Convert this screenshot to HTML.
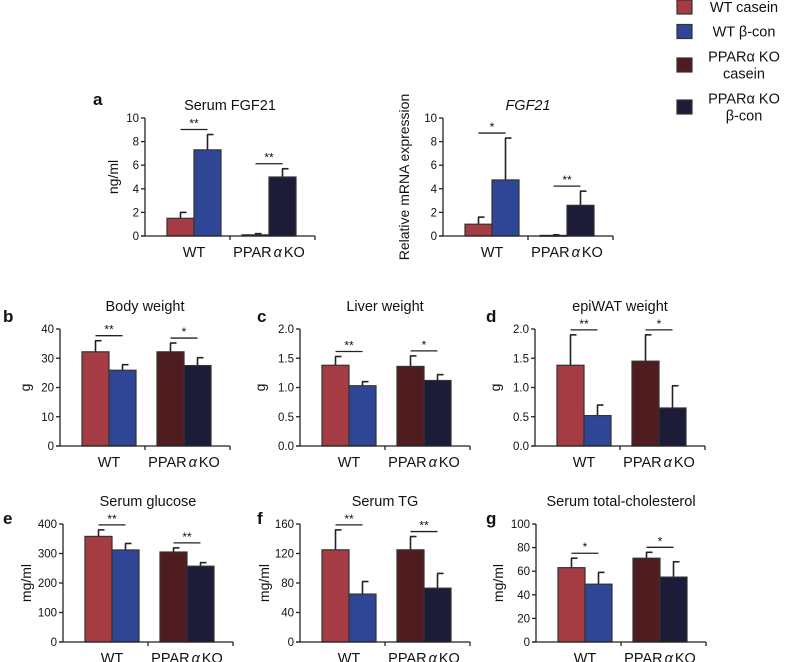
<!DOCTYPE html>
<html><head><meta charset="utf-8"><style>
html,body{margin:0;padding:0;background:#fff;}
svg{display:block;font-family:"Liberation Sans",Arial,sans-serif;}
</style></head><body>
<svg id="fig" width="787" height="662" viewBox="0 0 787 662"></svg>
<script>
const groups = ["WT", "PPARα KO"];
const seriesNames = ["WT casein", "WT β-con", "PPARα KO casein", "PPARα KO β-con"];
const colors = ["#a63c43", "#2f4697", "#4f1c20", "#1d1c38"];
// values ordered: WT casein, WT b-con, KO casein, KO b-con
const fgfSerumMean = [1.5, 7.3, 0.1, 5.0];
const fgfSerumErr = [0.5, 1.3, 0.1, 0.7];
const fgfMrnaMean = [1.0, 4.75, 0.05, 2.6];
const fgfMrnaErr = [0.6, 3.55, 0.05, 1.2];
const bodyMean = [32.2, 25.9, 32.2, 27.5];
const bodyErr = [3.8, 1.9, 3.0, 2.7];
const liverMean = [1.38, 1.03, 1.36, 1.12];
const liverErr = [0.15, 0.07, 0.18, 0.1];
const epiMean = [1.38, 0.52, 1.45, 0.65];
const epiErr = [0.52, 0.18, 0.45, 0.38];
const glucMean = [358, 312, 305, 257];
const glucErr = [22, 22, 14, 12];
const tgMean = [125, 65, 125, 73];
const tgErr = [27, 17, 18, 20];
const cholMean = [63, 49, 71, 55];
const cholErr = [8, 10, 5, 13];
const ticks10 = ["0","2","4","6","8","10"];
const ticks40 = ["0","10","20","30","40"];
const ticks2 = ["0.0","0.5","1.0","1.5","2.0"];
const ticks400 = ["0","100","200","300","400"];
const ticks160 = ["0","40","80","120","160"];
const ticks100 = ["0","20","40","60","80","100"];
const sig = {a1:["**","**"], a2:["*","**"], b:["**","*"], c:["**","*"], d:["**","*"], e:["**","**"], f:["**","**"], g:["*","*"]};

const NS = "http://www.w3.org/2000/svg";
const svg = document.getElementById("fig");
function mk(tag, attrs, parent, text) {
  const e = document.createElementNS(NS, tag);
  for (const k in attrs) e.setAttribute(k, attrs[k]);
  if (text !== undefined) e.textContent = text;
  (parent || svg).appendChild(e);
  return e;
}

function panel(opt) {
  const g = mk("g", {});
  
  
  const X0 = opt.x0, Y0 = opt.y0, H = opt.h, L = 170;
  const ticks = opt.ticks;
  const ymax = parseFloat(ticks[ticks.length - 1]);
  const ys = v => Y0 - v / ymax * H;
  const offs = [22, 49, 97, 124];
  const bw = 27;
  const t = mk("text", {x: X0 + 85, y: Y0 - H - opt.tOff, "text-anchor": "middle", "font-size": 14.5, fill: "#111", "font-style": opt.italic ? "italic" : "normal"}, g, opt.title);
  
  
  opt.mean.forEach((m, i) => {
    const x = X0 + offs[i];
    const top = ys(m), e = ys(m + opt.err[i]);
    const ln = mk("line", {x1: x + bw / 2, x2: x + bw / 2, y1: top, y2: e, stroke: "#222", "stroke-width": 1.6}, g);
    
    
    const cap = mk("line", {x1: x + bw / 2 - 0.5, x2: x + bw / 2 + 6, y1: e, y2: e, stroke: "#222", "stroke-width": 1.6}, g);
    
    
    const r = mk("rect", {x: x, y: top, width: bw, height: Math.max(Y0 - top, 0.8), fill: colors[i], stroke: "#333", "stroke-width": 1.2}, g);
    
    
  });
  const ya = mk("line", {x1: X0, x2: X0, y1: Y0, y2: Y0 - H, stroke: "#222", "stroke-width": 1.3}, g);
  
  
  const xa = mk("line", {x1: X0 - 4, x2: X0 + L, y1: Y0, y2: Y0, stroke: "#222", "stroke-width": 1.3}, g);
  
  
  [X0 + 85, X0 + L].forEach(tx => {
    const tk = mk("line", {x1: tx, x2: tx, y1: Y0, y2: Y0 + 4, stroke: "#222", "stroke-width": 1.3}, g);
    
    
  });
  ticks.forEach(s => {
    const y = ys(parseFloat(s));
    const tk = mk("line", {x1: X0 - 4, x2: X0, y1: y, y2: y, stroke: "#222", "stroke-width": 1.3}, g);
    
    
    const tl = mk("text", {x: X0 - 6, y: y + 4, "text-anchor": "end", "font-size": 11.5, fill: "#111"}, g, s);
    
    
  });
  const gl1 = mk("text", {x: X0 + 49, y: Y0 + 21, "text-anchor": "middle", "font-size": 14.5, fill: "#111"}, g, groups[0]);
  
  
  const gl2 = mk("text", {x: X0 + 124, y: Y0 + 21, "text-anchor": "middle", "font-size": 14.5, fill: "#111"}, g);
  
  
  mk("tspan", {}, gl2, "PPAR");
  mk("tspan", {"font-style": "italic", dx: 2}, gl2, "α");
  mk("tspan", {dx: 2}, gl2, "KO");
  const yt = mk("text", {x: opt.ytx, y: Y0 - H / 2, "text-anchor": "middle", "font-size": 14, fill: "#111", transform: `rotate(-90 ${opt.ytx} ${Y0 - H / 2})`}, g, opt.ytitle);
  
  
  [0, 2].forEach((i, k) => {
    const top = Math.min(ys(opt.mean[i] + opt.err[i]), ys(opt.mean[i + 1] + opt.err[i + 1]));
    const y = top - 5;
    const x1 = X0 + offs[i] + bw / 2, x2 = X0 + offs[i + 1] + bw / 2;
    const sl = mk("line", {x1: x1, x2: x2, y1: y, y2: y, stroke: "#222", "stroke-width": 1.3}, g);
    
    
    const st = mk("text", {x: (x1 + x2) / 2, y: y - 2, "text-anchor": "middle", "font-size": 12, fill: "#111"}, g, opt.sig[k]);
    
    
  });
  if (opt.letter) {
    const pl = mk("text", {x: opt.lx, y: opt.ly, "font-size": 17, "font-weight": "bold", fill: "#111"}, g, opt.letter);
    
    
  }
}

panel({name:"panel-a-serum-fgf21", x0:145, y0:236, h:118, tOff:8, ticks:ticks10, mean:fgfSerumMean, err:fgfSerumErr, title:"Serum FGF21", ytitle:"ng/ml", ytx:118, sig:sig.a1, letter:"a", lx:93, ly:105});
panel({name:"panel-a-fgf21-mrna", x0:443, y0:236, h:118, tOff:8, ticks:ticks10, mean:fgfMrnaMean, err:fgfMrnaErr, title:"FGF21", italic:true, ytitle:"Relative mRNA expression", ytx:409, sig:sig.a2});
panel({name:"panel-b-body-weight", x0:60, y0:446, h:117, tOff:18, ticks:ticks40, mean:bodyMean, err:bodyErr, title:"Body weight", ytitle:"g", ytx:30, sig:sig.b, letter:"b", lx:3, ly:322});
panel({name:"panel-c-liver-weight", x0:300, y0:446, h:117, tOff:18, ticks:ticks2, mean:liverMean, err:liverErr, title:"Liver weight", ytitle:"g", ytx:265, sig:sig.c, letter:"c", lx:257, ly:322});
panel({name:"panel-d-epiwat-weight", x0:535, y0:446, h:117, tOff:18, ticks:ticks2, mean:epiMean, err:epiErr, title:"epiWAT weight", ytitle:"g", ytx:500, sig:sig.d, letter:"d", lx:486, ly:322});
panel({name:"panel-e-serum-glucose", x0:63, y0:642, h:118, tOff:18, ticks:ticks400, mean:glucMean, err:glucErr, title:"Serum glucose", ytitle:"mg/ml", ytx:31, sig:sig.e, letter:"e", lx:3, ly:524});
panel({name:"panel-f-serum-tg", x0:300, y0:642, h:118, tOff:18, ticks:ticks160, mean:tgMean, err:tgErr, title:"Serum TG", ytitle:"mg/ml", ytx:269, sig:sig.f, letter:"f", lx:257, ly:524});
panel({name:"panel-g-serum-cholesterol", x0:536, y0:642, h:118, tOff:18, ticks:ticks100, mean:cholMean, err:cholErr, title:"Serum total-cholesterol", ytitle:"mg/ml", ytx:503, sig:sig.g, letter:"g", lx:486, ly:524});

const legend = mk("g", {});


const legY = [7, 31.5, 65, 107];
const legLines = [["WT casein"], ["WT β-con"], ["PPARα KO", "casein"], ["PPARα KO", "β-con"]];
legLines.forEach((lines, i) => {
  const sw = mk("rect", {x: 677, y: legY[i] - 7, width: 15, height: 14, fill: colors[i], stroke: "#333", "stroke-width": 1.2}, legend);
  
  
  lines.forEach((s, j) => {
    const ty = legY[i] + 5 + (j - (lines.length - 1) / 2) * 17;
    const tx = mk("text", {x: 744, y: ty, "text-anchor": "middle", "font-size": 14.5, fill: "#111"}, legend, s);
    
    
  });
});
</script>
</body></html>
